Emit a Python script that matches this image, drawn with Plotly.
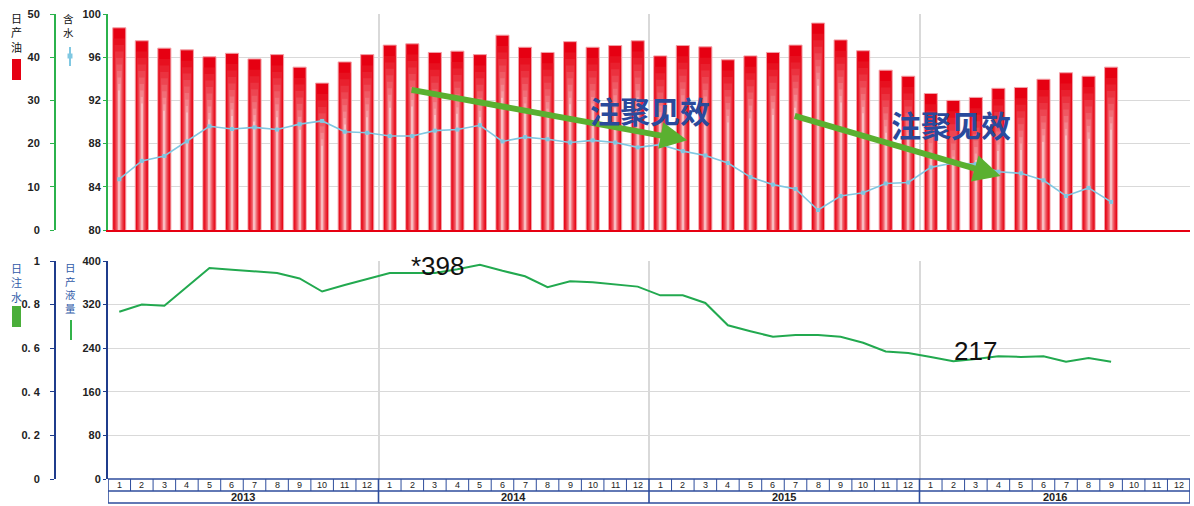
import plotly.graph_objects as go

# ---------------- data ----------------
years = ['2013', '2014', '2015', '2016']
months = [str(m) for m in range(1, 13)]

# 日产油 (t/d) 2013-01 .. 2016-09
oil = [46.8, 43.8, 42.1, 41.7, 40.1, 40.9, 39.6, 40.6, 37.7, 34.0, 38.9, 40.6,
       42.8, 43.1, 41.1, 41.4, 40.6, 45.1, 42.3, 41.1, 43.6, 42.3, 42.7, 43.8,
       40.3, 42.7, 42.4, 39.4, 40.3, 41.1, 42.8, 47.9, 44.0, 41.5, 37.0, 35.6,
       31.6, 30.0, 30.7, 32.8, 33.0, 34.9, 36.4, 35.6, 37.7]
# 含水 (%)
water_cut = [84.7, 86.4, 86.85, 88.2, 89.6, 89.35, 89.5, 89.3, 89.8, 90.1, 89.1, 89.0,
             88.7, 88.7, 89.2, 89.3, 89.7, 88.2, 88.6, 88.4, 88.1, 88.3, 88.1, 87.65,
             87.9, 87.3, 86.9, 86.2, 84.9, 84.2, 83.8, 81.85, 83.15, 83.45, 84.3, 84.4,
             85.8, 86.2, 86.1, 85.4, 85.25, 84.6, 83.15, 83.9, 82.6]
# 日产液量
liquid = [307, 320, 318, 353, 387, 384, 381, 378, 368, 344, 356, 367,
          378, 378, 378, 385, 393, 382, 372, 352, 363, 361, 357, 353,
          337, 337, 323, 282, 271, 261, 264, 264, 261, 250, 234, 231,
          224, 216, 220, 225, 224, 225, 215, 222, 215]
# 日注水 (no bars shown in the source)
injection = []

oil_ticks = [0, 10, 20, 30, 40, 50]
wc_ticks = [80, 84, 88, 92, 96, 100]
liq_ticks = [0, 80, 160, 240, 320, 400]
inj_ticks = [0, 0.2, 0.4, 0.6, 0.8, 1]
inj_ticktext = ['0', '0. 2', '0. 4', '0. 6', '0. 8', '1']

notes = ['注聚见效', '注聚见效']
peak_label = '*398'
low_label = '217'

# ---------------- geometry helpers ----------------
W, H = 1194, 506
def px_x(p):
    return p / W
def px_y(p):
    return 1 - p / H

X0, X1 = px_x(108), px_x(1190)
n_periods = len(years) * len(months)
idx = list(range(len(oil)))
year_bounds = [12 * k - 0.5 for k in range(1, len(years))]

RED = '#e60012'
GREEN_AX = '#2bb24c'
BLUE_AX = '#1f3c8c'
GRID = '#d9d9d9'
TICKFONT = dict(family='Liberation Sans', size=11, color='#222222', weight='bold')

fig = go.Figure()

# gradient-like cylinder bars built from overlaid bars (outer red -> pale centre)
layers = [(0.58, 0.0, '#e60012'), (0.50, 2.5, '#e7101f'), (0.43, 4.0, '#e9202e'),
          (0.37, 5.5, '#eb323f'), (0.31, 7.0, '#ed4551'), (0.25, 8.5, '#ef5963'),
          (0.20, 10.0, '#f16e77'), (0.15, 11.5, '#f4858d'), (0.10, 13.0, '#f69ea4'),
          (0.05, 14.5, '#f9bcc0')]
for k, (w, off, col) in enumerate(layers):
    fig.add_trace(go.Bar(
        x=idx, y=[max(v - off, 0) for v in oil], width=w,
        marker=dict(color=col, line=dict(color='#f3a0a7' if k == 0 else col,
                                          width=1 if k == 0 else 0)),
        xaxis='x', yaxis='y', hoverinfo='skip', showlegend=False))

fig.add_trace(go.Scatter(
    x=idx, y=water_cut, mode='lines+markers',
    line=dict(color='#80c8e2', width=1.6),
    marker=dict(symbol='square', size=4, color='#80c8e2'),
    xaxis='x', yaxis='y2', showlegend=False))

fig.add_trace(go.Scatter(
    x=idx, y=liquid, mode='lines',
    line=dict(color='#22a94f', width=2),
    xaxis='x2', yaxis='y3', showlegend=False))

fig.add_trace(go.Scatter(
    x=list(range(len(injection))), y=injection, mode='lines',
    xaxis='x2', yaxis='y4', showlegend=False))

top_dom = [px_y(230), px_y(14)]
bot_dom = [px_y(479), px_y(261)]

fig.update_layout(
    width=W, height=H, margin=dict(l=0, r=0, t=0, b=0, autoexpand=False),
    paper_bgcolor='white', plot_bgcolor='white',
    barmode='overlay', showlegend=False,
    xaxis=dict(domain=[X0, X1], anchor='y', range=[-0.5, n_periods - 0.5],
               tickvals=year_bounds, showticklabels=False, ticks='',
               showgrid=True, gridcolor=GRID, gridwidth=1.5, zeroline=False,
               showline=True, linecolor=RED, linewidth=2, automargin=False),
    yaxis=dict(domain=top_dom, range=[0, 50], anchor='free', position=px_x(55),
               tickvals=oil_ticks, ticks='outside', ticklen=4, tickcolor=GREEN_AX,
               showline=True, linecolor=GREEN_AX, linewidth=2,
               showgrid=True, gridcolor=GRID, zeroline=False,
               tickfont=TICKFONT, ticklabelstandoff=8, automargin=False),
    yaxis2=dict(overlaying='y', range=[80, 100], anchor='x', side='left',
                tickvals=wc_ticks, ticks='outside', ticklen=3, tickcolor=GREEN_AX,
                showline=True, linecolor=GREEN_AX, linewidth=2,
                showgrid=False, zeroline=False, tickfont=TICKFONT, automargin=False),
    xaxis2=dict(domain=[X0, X1], anchor='y3', range=[-0.5, n_periods - 0.5],
                tickvals=year_bounds, showticklabels=False, ticks='',
                showgrid=True, gridcolor=GRID, gridwidth=1.5, zeroline=False,
                showline=False, automargin=False),
    yaxis3=dict(domain=bot_dom, range=[0, 400], anchor='x2',
                tickvals=liq_ticks, ticks='outside', ticklen=3, tickcolor=BLUE_AX,
                showline=True, linecolor=BLUE_AX, linewidth=2,
                showgrid=True, gridcolor=GRID, zeroline=False, tickfont=TICKFONT,
                automargin=False),
    yaxis4=dict(overlaying='y3', range=[0, 1], anchor='free', position=px_x(55),
                tickvals=inj_ticks, ticktext=inj_ticktext, ticks='outside', ticklen=4,
                tickcolor=BLUE_AX, showline=True, linecolor=BLUE_AX, linewidth=2,
                showgrid=False, zeroline=False, tickfont=TICKFONT, ticklabelstandoff=8,
                automargin=False),
)

shapes = []
annotations = []

# category table under the lower chart
TB = '#2e4d9c'
row_top, row_mid, row_bot = px_y(479), px_y(491), px_y(503)
for i in range(n_periods + 1):
    full = (i % 12 == 0)
    shapes.append(dict(type='line', xref='x2', yref='paper', x0=i - 0.5, x1=i - 0.5,
                       y0=row_bot if full else row_mid, y1=row_top,
                       line=dict(color=TB, width=1.6 if full else 1)))
for yy in (row_top, row_mid, row_bot):
    shapes.append(dict(type='line', xref='x2', yref='paper', x0=-0.5, x1=n_periods - 0.5,
                       y0=yy, y1=yy, line=dict(color=TB, width=1.4)))
for i in range(n_periods):
    annotations.append(dict(x=i, y=(row_top + row_mid) / 2, xref='x2', yref='paper',
                            text=months[i % 12], showarrow=False,
                            font=dict(family='Liberation Sans', size=9, color='#222'),
                            xanchor='center', yanchor='middle'))
for k, yr in enumerate(years):
    annotations.append(dict(x=12 * k + 5.5, y=(row_mid + row_bot) / 2, xref='x2', yref='paper',
                            text='<b>%s</b>' % yr, showarrow=False,
                            font=dict(family='Liberation Sans', size=11, color='#222'),
                            xanchor='center', yanchor='middle'))

# axis titles (vertical, one character per line) with legend symbols
def vtitle(s, xc, yc, size, color):
    return dict(x=px_x(xc), y=px_y(yc), xref='paper', yref='paper',
                text='<br>'.join(list(s)), showarrow=False, borderpad=0,
                font=dict(family='Noto Sans CJK SC', size=size, color=color),
                xanchor='center', yanchor='middle')

annotations += [
    vtitle('日产油', 16.5, 32.5, 11, '#111'),
    vtitle('含水', 68, 25.5, 10.5, '#111'),
    vtitle('日注水', 16.5, 282, 11, '#2f5aa8'),
    vtitle('日产液量', 70, 288, 10.5, '#2f5aa8'),
]

shapes += [
    dict(type='rect', xref='paper', yref='paper', x0=px_x(12), x1=px_x(21),
         y0=px_y(80), y1=px_y(59), fillcolor=RED, line=dict(width=0)),
    dict(type='line', xref='paper', yref='paper', x0=px_x(70), x1=px_x(70),
         y0=px_y(66), y1=px_y(47), line=dict(color='#80c8e2', width=2)),
    dict(type='rect', xref='paper', yref='paper', x0=px_x(67.5), x1=px_x(72.5),
         y0=px_y(58.5), y1=px_y(53.5), fillcolor='#80c8e2', line=dict(width=0)),
    dict(type='rect', xref='paper', yref='paper', x0=px_x(12), x1=px_x(21),
         y0=px_y(327), y1=px_y(306), fillcolor='#4aae3a', line=dict(width=0)),
    dict(type='line', xref='paper', yref='paper', x0=px_x(71), x1=px_x(71),
         y0=px_y(340), y1=px_y(320), line=dict(color='#33b34a', width=2)),
]

# green arrows and notes
ARROW = '#5ab030'
for (xt, yt, xa, ya) in [(25.2, 88.3, 12.9, 93.0), (39.1, 85.0, 29.9, 90.6)]:
    annotations.append(dict(x=xt, y=yt, ax=xa, ay=ya, xref='x', yref='y2',
                            axref='x', ayref='y2', text='', showarrow=True,
                            arrowhead=2, arrowsize=0.9, arrowwidth=6, arrowcolor=ARROW))
for (xn, yn), t in zip([(23.55, 91.1), (36.9, 89.8)], notes):
    annotations.append(dict(x=xn, y=yn, xref='x', yref='y2', text=t, showarrow=False,
                            font=dict(family='Noto Sans CJK SC', size=30, color='#2a4a9c',
                                      weight='bold'),
                            xanchor='center', yanchor='middle'))

annotations.append(dict(x=14.15, y=391, xref='x2', yref='y3', text=peak_label, showarrow=False,
                        font=dict(family='Liberation Sans', size=26, color='#111'),
                        xanchor='center', yanchor='middle'))
annotations.append(dict(x=38.0, y=234, xref='x2', yref='y3', text=low_label, showarrow=False,
                        font=dict(family='Liberation Sans', size=26, color='#111'),
                        xanchor='center', yanchor='middle'))

fig.update_layout(shapes=shapes, annotations=annotations)
fig.write_html('out.html', config={'displayModeBar': False},
               post_script="document.body.style.margin='0';document.body.style.overflow='hidden';")
